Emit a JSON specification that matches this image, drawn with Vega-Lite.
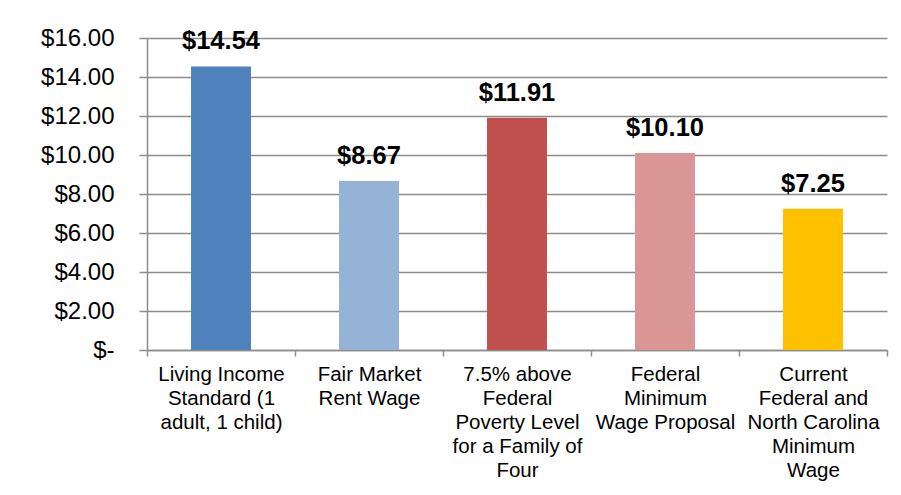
{
  "$schema": "https://vega.github.io/schema/vega-lite/v6.json",
  "autosize": {"type": "none"},
  "padding": {"left": 147, "top": 38, "right": 14, "bottom": 145},
  "width": 740,
  "height": 312,
  "background": "white",
  "config": {
    "view": {"stroke": null},
    "font": "Liberation Sans"
  },
  "data": {
    "values": [
      {"category": "Living Income|Standard (1|adult, 1 child)", "wage": 14.54, "label": "$14.54"},
      {"category": "Fair Market|Rent Wage", "wage": 8.67, "label": "$8.67"},
      {"category": "7.5% above|Federal|Poverty Level|for a Family of|Four", "wage": 11.91, "label": "$11.91"},
      {"category": "Federal|Minimum|Wage Proposal", "wage": 10.10, "label": "$10.10"},
      {"category": "Current|Federal and|North Carolina|Minimum|Wage", "wage": 7.25, "label": "$7.25"}
    ]
  },
  "encoding": {
    "x": {
      "field": "category",
      "type": "nominal",
      "sort": null,
      "scale": {"paddingInner": 0, "paddingOuter": 0},
      "axis": {
        "title": null,
        "labelAngle": 0,
        "labelExpr": "split(datum.label, '|')",
        "labelFont": "Liberation Sans",
        "labelFontSize": 20.5,
        "labelLineHeight": 24,
        "labelColor": "black",
        "labelPadding": 8,
        "labelLimit": 0,
        "tickBand": "extent",
        "tickSize": 6,
        "tickColor": "#8c8c8c",
        "tickWidth": 1.5,
        "domainColor": "#8c8c8c",
        "domainWidth": 1.5,
        "grid": false
      }
    },
    "y": {
      "field": "wage",
      "type": "quantitative",
      "scale": {"domain": [0, 16], "nice": false},
      "axis": {
        "title": null,
        "values": [0, 2, 4, 6, 8, 10, 12, 14, 16],
        "labelExpr": "datum.value == 0 ? '$-\u00a0\u00a0' : '$' + format(datum.value, '.2f')",
        "labelFont": "Liberation Sans",
        "labelFontSize": 24,
        "labelColor": "black",
        "labelPadding": 25,
        "tickSize": 8,
        "tickColor": "#8c8c8c",
        "tickWidth": 1.5,
        "domainColor": "#8c8c8c",
        "domainWidth": 1.5,
        "grid": true,
        "gridColor": "#8c8c8c",
        "gridWidth": 1.5
      }
    }
  },
  "layer": [
    {
      "mark": {"type": "bar", "width": {"band": 0.405}},
      "encoding": {
        "color": {
          "field": "category",
          "type": "nominal",
          "sort": null,
          "scale": {"range": ["#4F81BD", "#95B3D7", "#C0504D", "#D99694", "#FFC000"]},
          "legend": null
        }
      }
    },
    {
      "mark": {"type": "text", "fontWeight": "bold", "fontSize": 25.5, "dy": -17, "baseline": "alphabetic", "color": "black", "font": "Liberation Sans"},
      "encoding": {
        "text": {"field": "label", "type": "nominal"}
      }
    }
  ]
}
